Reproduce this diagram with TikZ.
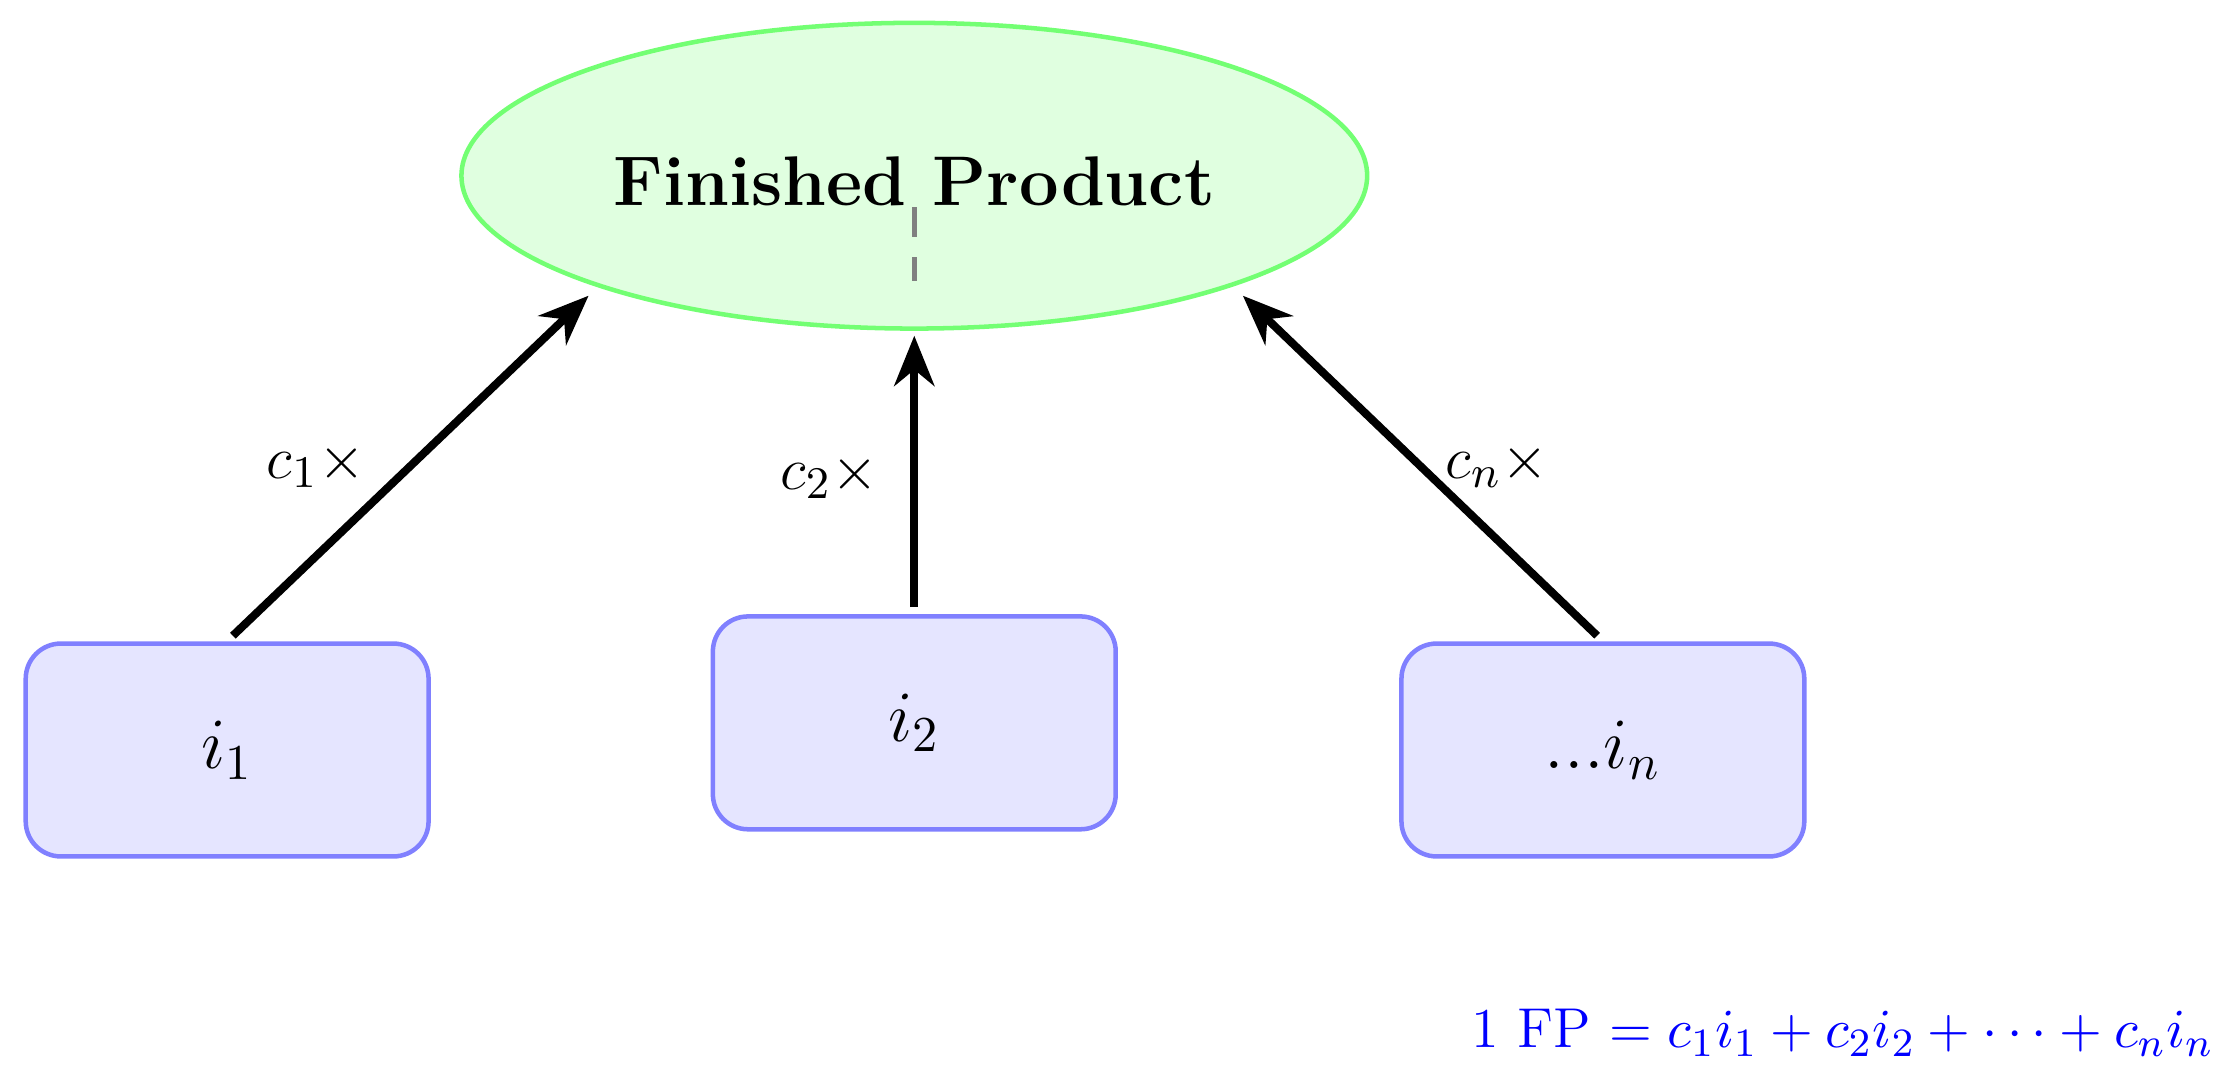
\documentclass[tikz,border=0pt]{standalone}
\usetikzlibrary{shapes.geometric,arrows.meta}
\begin{document}
\begin{tikzpicture}[x=1cm,y=1cm,
 box/.style={draw=blue!50,fill=blue!10,line width=0.9pt,rounded corners=7pt,minimum width=2.82cm,minimum height=1.49cm,font=\fontsize{14}{17}\selectfont},
 arr/.style={line width=1.6pt,-{Stealth[length=10pt,width=8pt]}},
 lab/.style={font=\fontsize{12.5}{15}\selectfont}]
\useasboundingbox (0,0) rectangle (15.68,7.59);
\node[ellipse,draw=green!55,fill=green!12,line width=0.9pt,minimum width=6.34cm,minimum height=2.14cm] (fp) at (6.40,6.36) {};
\node[font=\bfseries\fontsize{14}{17}\selectfont] (fpt) at (6.40,6.32) {Finished Product};
\coordinate (d1) at (6.40,6.14); \coordinate (d2) at (6.40,5.62);
\draw[gray,line width=0.9pt,dash pattern=on 6pt off 4pt] (d1) -- (d2);
\node[box] (b1) at (1.59,2.34) {$i_1$};
\node[box] (b2) at (6.40,2.53) {$i_2$};
\node[box] (b3) at (11.22,2.34) {$...i_n$};
\coordinate (s1) at (1.63,3.14); \coordinate (e1) at (4.12,5.52);
\coordinate (s2) at (6.40,3.34); \coordinate (e2) at (6.40,5.24);
\coordinate (s3) at (11.18,3.14); \coordinate (e3) at (8.70,5.52);
\draw[arr] (s1) -- (e1) node[lab,pos=0.5,left=5pt] (l1) {$c_1\times$};
\draw[arr] (s2) -- (e2) node[lab,pos=0.48,left=3pt] (l2) {$c_2\times$};
\draw[arr] (s3) -- (e3) node[lab,pos=0.5,right=1pt] (l3) {$c_n\times$};
\node[font=\fontsize{11.2}{14}\selectfont,text=blue,anchor=east] (f) at (15.62,0.36) {1 FP $= c_1 i_1 + c_2 i_2 + \cdots + c_n i_n$};
\end{tikzpicture}
\end{document}
